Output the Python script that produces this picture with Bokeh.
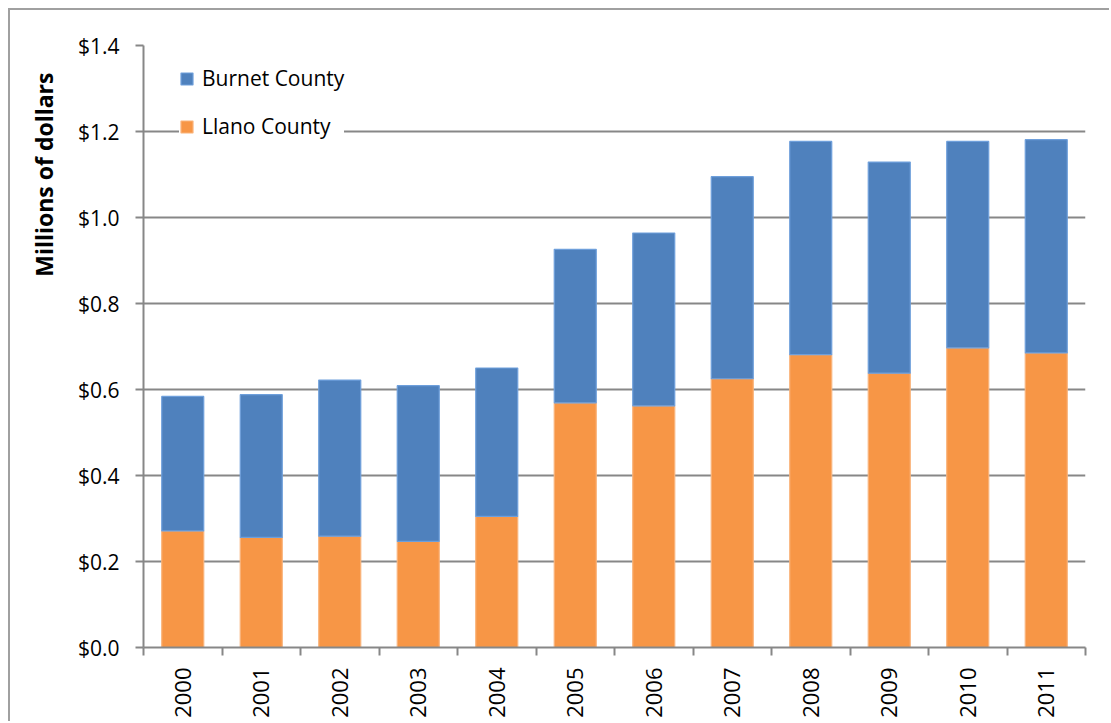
import numpy as np
from bokeh.plotting import figure
from bokeh.models import (ColumnDataSource, FixedTicker, NumeralTickFormatter, Range1d,
                          Legend, LegendItem, Title)
from bokeh.embed import file_html
from bokeh.resources import INLINE

years = ["2000", "2001", "2002", "2003", "2004", "2005", "2006", "2007", "2008", "2009", "2010", "2011"]
llano = [0.271, 0.256, 0.259, 0.247, 0.305, 0.569, 0.562, 0.625, 0.681, 0.638, 0.697, 0.685]
burnet = [0.313, 0.332, 0.363, 0.362, 0.345, 0.357, 0.402, 0.470, 0.496, 0.491, 0.480, 0.496]
y_ticks = [0.0, 0.2, 0.4, 0.6, 0.8, 1.0, 1.2, 1.4]

BLUE = "#4F81BD"
ORANGE = "#F79646"
GRID = "#878787"
FONT = "Open Sans"

xpos = np.arange(len(years)) + 0.5
source = ColumnDataSource(dict(x=xpos, llano=llano, burnet=burnet))

p = figure(width=1101, height=713, output_backend="svg", toolbar_location=None,
           x_range=Range1d(0, len(years)), y_range=Range1d(0, 1.4),
           min_border_left=133, min_border_right=26, min_border_top=35, min_border_bottom=76,
           styles={"margin-top": "8px", "margin-left": "8px",
                   "border-top": "2px solid #a0a0a0", "border-left": "2px solid #a0a0a0"})
p.outline_line_color = None
p.background_fill_color = "white"
p.border_fill_color = "white"

renderers = p.vbar_stack(["llano", "burnet"], x="x", width=0.535, source=source,
                         fill_color=[ORANGE, BLUE], line_color=["#FAB37A", "#6E9FDB"],
                         line_width=1.2)

# Y axis
p.yaxis.ticker = FixedTicker(ticks=y_ticks)
p.yaxis.formatter = NumeralTickFormatter(format="$0.0")
p.yaxis.axis_line_color = GRID
p.yaxis.axis_line_width = 2
p.yaxis.major_tick_line_color = GRID
p.yaxis.major_tick_line_width = 2
p.yaxis.major_tick_out = 8
p.yaxis.major_tick_in = 0
p.yaxis.minor_tick_line_color = None
p.yaxis.major_label_text_font = FONT
p.yaxis.major_label_text_font_size = "21px"
p.yaxis.major_label_text_color = "black"
p.yaxis.major_label_standoff = 16

# X axis: labels at centres, ticks at category boundaries
p.xaxis.ticker = FixedTicker(ticks=list(xpos), minor_ticks=list(range(len(years) + 1)))
p.xaxis.major_label_overrides = {float(x): y for x, y in zip(xpos, years)}
p.xaxis.major_label_orientation = np.pi / 2
p.xaxis.major_label_text_font = FONT
p.xaxis.major_label_text_font_size = "22px"
p.xaxis.major_label_text_color = "black"
p.xaxis.major_label_standoff = 12
p.xaxis.major_tick_out = 0
p.xaxis.major_tick_in = 0
p.xaxis.minor_tick_out = 8
p.xaxis.minor_tick_in = 0
p.xaxis.minor_tick_line_color = GRID
p.xaxis.minor_tick_line_width = 2
p.xaxis.axis_line_color = GRID
p.xaxis.axis_line_width = 2

p.xgrid.grid_line_color = None
p.ygrid.grid_line_color = GRID
p.ygrid.grid_line_width = 2

legend = Legend(items=[LegendItem(label="Burnet County", renderers=[renderers[1]]),
                       LegendItem(label="Llano County", renderers=[renderers[0]])],
                location=(36, 507))
legend.label_text_font = FONT
legend.label_text_font_size = "21px"
legend.label_text_color = "black"
legend.glyph_width = 15
legend.glyph_height = 15
legend.label_height = 24
legend.spacing = 20
legend.padding = 10
legend.label_standoff = 8
legend.border_line_color = None
legend.background_fill_color = "white"
legend.background_fill_alpha = 1.0
p.add_layout(legend, "center")

ytitle = Title(text="Millions of dollars", align="right", offset=27, standoff=30,
               text_font=FONT, text_font_style="bold", text_font_size="23px",
               text_color="black")
p.add_layout(ytitle, "left")

open("out.html", "w").write(file_html(p, INLINE))
